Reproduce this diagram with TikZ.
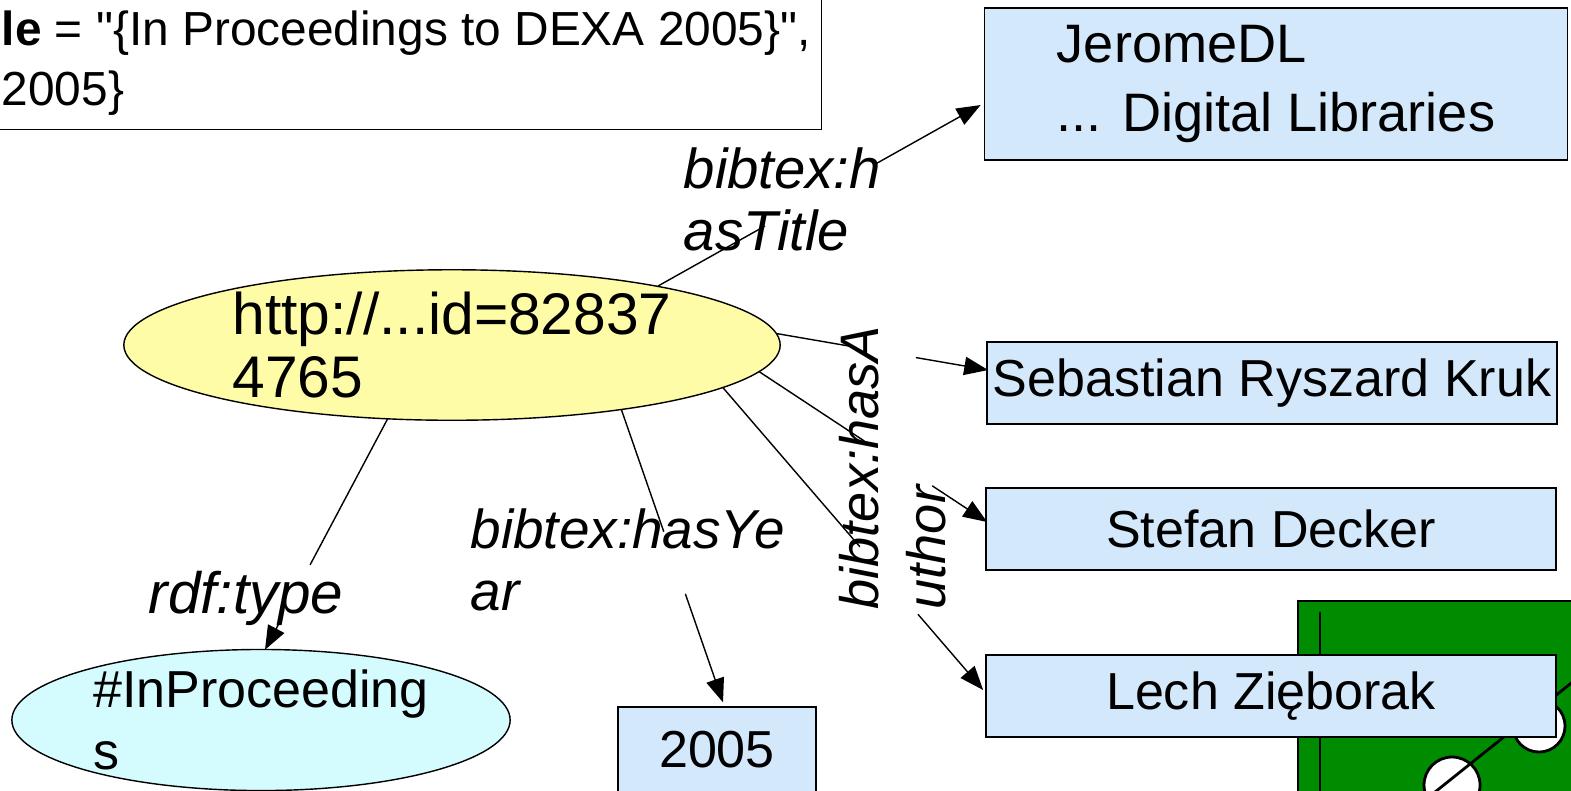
\documentclass[tikz,border=0pt]{standalone}
\usepackage{fontspec}
\setmainfont{Liberation Sans}
\usepackage{tikz}
\usetikzlibrary{arrows.meta}
\usetikzlibrary{shapes.geometric,positioning,calc}
\definecolor{litblue}{RGB}{212,232,252}
\definecolor{resyellow}{RGB}{255,252,168}
\definecolor{clscyan}{RGB}{212,252,255}
\definecolor{boardgreen}{RGB}{0,140,0}
\tikzset{>={Triangle[length=6.8pt,width=5.2pt]},
  literal/.style={draw,fill=litblue,inner sep=0pt,minimum width=5.7cm,
    minimum height=0.82cm,font=\fontsize{14.8}{19}\selectfont},
  resource/.style={draw,ellipse,inner sep=0pt,align=left,
    font=\fontsize{14.8}{17.5}\selectfont},
  prop/.style={inner sep=0pt,align=left,
    font=\fontsize{16}{17.5}\selectfont\itshape}}

\begin{document}
\begin{tikzpicture}[x=0.01cm,y=-0.01cm,line cap=round]
    \clip (0,0) rectangle (1571,790);

    % the board, partly hidden
    \draw [line width=0.8pt, fill=boardgreen] (1298,601) rectangle (1620,830);
    \draw [line width=0.8pt] (1320,613) -- (1320,800);
    \draw [line width=0.8pt, fill=white] (1539,726) circle [radius=0.26cm];
    \draw [line width=0.8pt, fill=white] (1452,785) circle [radius=0.28cm];
    \draw [line width=0.8pt] (1425,800) -- (1580,676);

    % bibtex entry
    \node [draw, fill=white, minimum width=9cm, minimum height=1.6cm,
      anchor=south east] (entry) at (822,130) {};
    \node [anchor=base west, inner sep=0pt, align=left,
      font=\fontsize{13.6}{17}\selectfont] (entrytext) at (1,105)
      {\textbf{le} = \textquotedbl\{In Proceedings to DEXA 2005\}\textquotedbl,\\2005\}};

	\node [resource, fill=resyellow, minimum width=6.56cm, minimum height=1.24cm,
	  font=\fontsize{16.7}{18}\selectfont] (paper) at (452,345) {http://...id=82837\\4765};
	\node [resource, fill=clscyan, minimum width=4.98cm, minimum height=1.16cm]
	  (type) at (261,720) {\#InProceeding\\s};

	\node [literal, minimum width=5.83cm, minimum height=1.52cm, align=left,
	  font=\fontsize{15.4}{19.5}\selectfont] (title) at (1276,84) {\vphantom{Jg}JeromeDL\\... Digital Libraries};
	\node [literal] (kruk) at (1272,383) {Sebastian Ryszard Kruk};
	\node [literal] (decker) at (1271,529) {Stefan Decker};
	\node [literal] (lech) at (1271,696) {Lech Zięborak};
	\node [literal, minimum width=1.98cm, minimum height=0.86cm] (year) at (717,750) {2005};

	% end points on the boxes
	\coordinate (totitle) at ($(title.west)+(-3,21)$);
	\coordinate (tokruk) at ($(kruk.west)+(2,-13)$);
	\coordinate (todecker) at ($(decker.west)+(2,-7)$);
	\coordinate (tolech) at ($(lech.west)+(-2,-6)$);
	\coordinate (toyear) at ($(year.north)+(6,-4)$);
	\coordinate (totype) at ($(type.north)+(4,1)$);

	% connectors, broken where the label sits
	\draw (paper.16) -- ($(paper.16)!.33!(totitle)$);
	\draw [->] ($(paper.16)!.67!(totitle)$) -- (totitle);
	\draw (paper.2) -- ($(paper.2)!.35!(tokruk)$);
	\draw [->] ($(paper.2)!.66!(tokruk)$) -- (tokruk);
	\draw (paper.-5) -- ($(paper.-5)!.46!(todecker)$);
	\draw [->] ($(paper.-5)!.76!(todecker)$) -- (todecker);
	\draw (paper.-9) -- ($(paper.-9)!.525!(tolech)$);
	\draw [->] ($(paper.-9)!.75!(tolech)$) -- (tolech);
	\draw (paper.-21.5) -- ($(paper.-21.5)!.415!(toyear)$);
	\draw [->] ($(paper.-21.5)!.63!(toyear)$) -- (toyear);
	\draw (paper.-131) -- ($(paper.-131)!.63!(totype)$);
	\draw [->] ($(paper.-131)!.866!(totype)$) -- (totype);

	\node [prop, anchor=base west] (hastitle) at (683,250) {bibtex:h\\asTitle};
	\node [prop, anchor=base west, font=\fontsize{15.6}{17.5}\selectfont\itshape]
	  (hasyear) at (470,610) {bibtex:hasYe\\ar};
	\node [prop, anchor=base west, font=\fontsize{16.6}{17.5}\selectfont\itshape]
	  (rdftype) at (148,613) {rdf:type};
	\node [prop, anchor=base west, rotate=90,
	  font=\fontsize{15.4}{19}\selectfont\itshape] (hasauthor) at (945,610) {bibtex:hasA\\uthor};

\end{tikzpicture}
\end{document}
